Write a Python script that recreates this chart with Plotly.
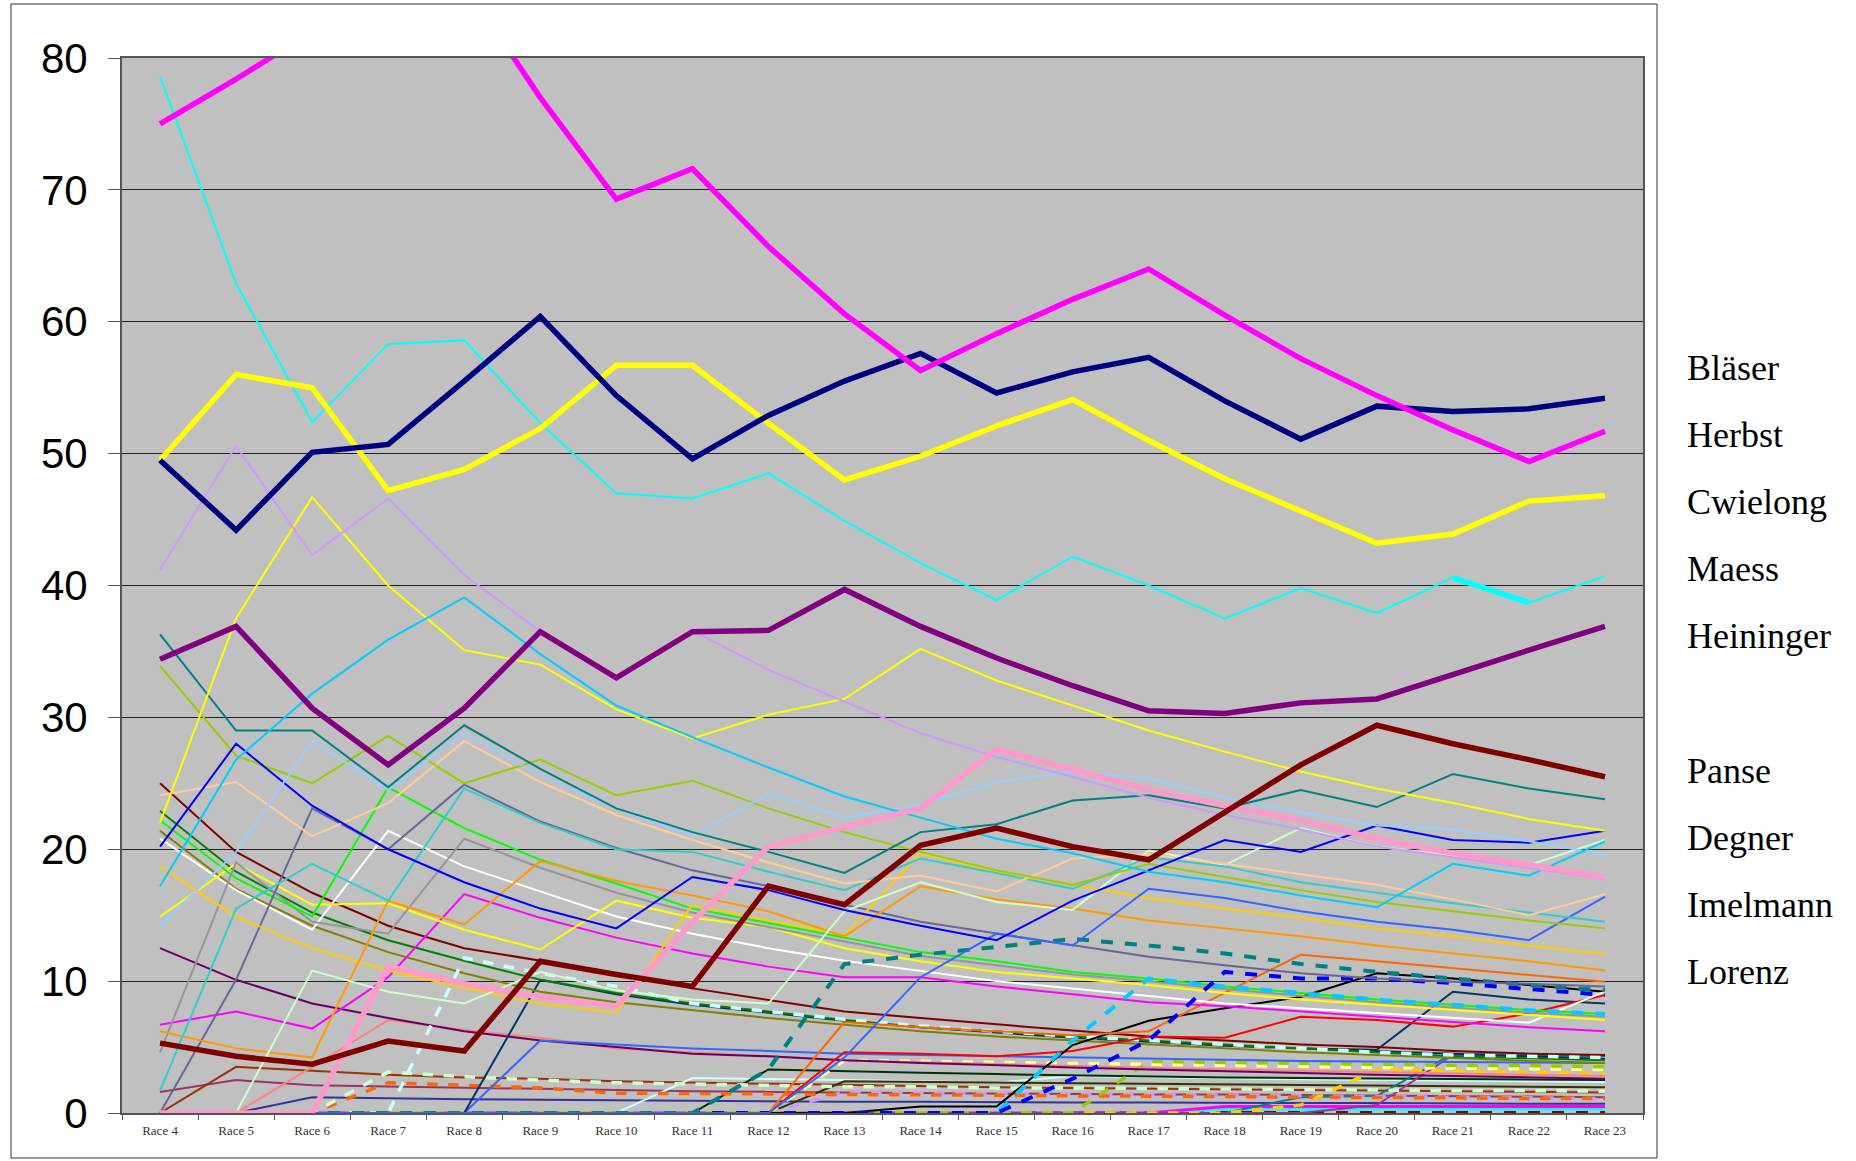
import plotly.graph_objects as go

races = ["Race %d" % k for k in range(4, 24)]

# ---- main (thick) series ----
blaeser   = [75.0, 78.4, 82.0, 85.0, 85.6, 77.0, 69.3, 71.6, 65.7, 60.6, 56.3, 59.1, 61.7, 64.0, 60.5, 57.2, 54.4, 51.8, 49.4, 51.7]
herbst    = [49.5, 44.2, 50.1, 50.7, 55.5, 60.4, 54.4, 49.6, 52.9, 55.5, 57.6, 54.6, 56.2, 57.3, 54.0, 51.1, 53.6, 53.2, 53.4, 54.2]
cwielong  = [49.5, 56.0, 55.0, 47.2, 48.8, 51.9, 56.7, 56.7, 52.3, 48.0, 49.8, 52.1, 54.1, 51.0, 48.1, 45.6, 43.2, 43.9, 46.4, 46.8]
maess     = [78.6, 62.9, 52.4, 58.3, 58.6, 52.3, 47.0, 46.6, 48.5, 44.9, 41.7, 38.9, 42.2, 40.0, 37.5, 39.8, 37.9, 40.6, 38.7, 40.7]
maess_b   = [None] * 17 + [40.6, 38.7, None]
heininger = [34.4, 36.9, 30.7, 26.4, 30.7, 36.5, 33.0, 36.5, 36.6, 39.7, 36.9, 34.5, 32.4, 30.5, 30.3, 31.1, 31.4, 33.3, 35.1, 36.9]
panse     = [5.3, 4.3, 3.7, 5.45, 4.7, 11.5, 10.5, 9.6, 17.2, 15.8, 20.3, 21.6, 20.2, 19.2, 22.8, 26.4, 29.4, 28.0, 26.8, 25.5]
pink_th   = [0, 0, 0, 11.1, 9.8, 8.8, 8.1, 14.5, 20.2, 21.7, 23.1, 27.6, 26.0, 24.5, 23.3, 22.2, 20.8, 19.7, 18.8, 17.9]

# ---- thin series ----
lavender  = [41.2, 50.6, 42.3, 46.6, 40.8, 36.5, 32.8, 36.6, 33.6, 31.2, 28.8, 27.0, 25.5, 23.9, 22.6, 21.5, 20.2, 19.4, 18.6, 17.7]
skyblue   = [17.2, 26.8, 31.8, 35.9, 39.1, 34.8, 30.9, 28.5, 26.2, 24.0, 22.4, 20.8, 19.7, 18.3, 17.5, 16.5, 15.6, 18.9, 18.0, 20.6]
yellow_a  = [22.0, 37.5, 46.7, 40.0, 35.1, 34.0, 30.6, 28.4, 30.2, 31.4, 35.2, 32.8, 30.9, 29.0, 27.4, 25.9, 24.6, 23.5, 22.3, 21.4]
teal      = [36.3, 29.0, 29.0, 24.7, 29.4, 26.1, 23.1, 21.3, 19.8, 18.2, 21.3, 21.9, 23.7, 24.1, 23.1, 24.5, 23.2, 25.7, 24.6, 23.8]
ygreen    = [33.9, 27.1, 25.0, 28.6, 25.0, 26.8, 24.1, 25.2, 23.1, 21.3, 19.8, 18.4, 17.3, 18.9, 17.9, 16.9, 16.0, 15.3, 14.6, 14.0]
ltorange  = [24.1, 25.1, 21.0, 23.5, 28.2, 25.1, 22.6, 20.7, 19.0, 17.4, 18.0, 16.8, 19.3, 19.6, 18.9, 18.1, 17.3, 16.2, 15.0, 16.6]
paleblue  = [14.2, 19.8, 28.2, 24.5, 28.8, 25.6, 23.1, 21.0, 24.2, 22.4, 23.4, 25.1, 25.9, 25.4, 23.9, 22.8, 21.8, 21.5, 20.6, 19.6]
blue_a    = [20.2, 28.0, 23.3, 20.0, 17.5, 15.5, 14.0, 17.9, 16.9, 15.4, 14.2, 13.1, 16.1, 18.4, 20.7, 19.8, 21.8, 20.7, 20.5, 21.4]
grayblue  = [0, 10.1, 23.1, 20.0, 24.9, 22.1, 20.1, 18.4, 17.2, 15.8, 14.5, 13.6, 12.7, 11.85, 11.2, 10.6, 10.2, 9.95, 9.8, 9.6]
turq      = [1.7, 15.5, 18.9, 16.1, 24.6, 22.0, 20.0, 19.8, 18.3, 16.9, 19.3, 18.2, 17.0, 19.4, 18.7, 17.5, 16.7, 15.9, 15.2, 14.5]
cornfl    = [0, 0, 0, 0, 0, 0, 0, 0, 0, 4.2, 10.3, 13.6, 12.7, 17.0, 16.3, 15.3, 14.5, 13.9, 13.1, 16.4]
royal     = [0, 0, 0, 0, 0, 5.5, 5.2, 4.9, 4.7, 4.5, 4.4, 4.3, 4.2, 4.1, 4.0, 3.95, 3.9, 3.85, 3.8, 3.8]
green     = [22.2, 17.8, 14.9, 24.7, 21.6, 19.2, 17.4, 15.5, 14.4, 13.3, 12.2, 11.5, 10.7, 10.2, 9.6, 9.1, 8.6, 8.2, 7.8, 7.5]
white     = [20.8, 16.9, 13.9, 21.4, 18.7, 16.8, 14.9, 13.6, 12.5, 11.55, 10.8, 10.0, 9.45, 8.9, 8.3, 7.95, 7.6, 7.2, 6.85, 9.2]
yellow_b  = [14.9, 18.9, 15.8, 15.9, 13.9, 12.4, 16.1, 14.8, 14.1, 12.5, 11.5, 10.7, 10.2, 9.7, 9.1, 8.6, 8.2, 7.8, 7.4, 7.05]
magenta_t = [6.7, 7.7, 6.4, 10.3, 16.6, 14.8, 13.3, 12.1, 11.1, 10.3, 10.3, 9.6, 9.0, 8.4, 8.1, 7.7, 7.3, 6.9, 6.5, 6.2]
orange    = [6.2, 4.9, 4.2, 16.1, 14.3, 19.1, 17.6, 16.5, 15.3, 13.4, 17.2, 16.2, 15.5, 14.6, 14.0, 13.4, 12.7, 12.1, 11.5, 10.8]
gold      = [18.7, 14.9, 12.5, 10.8, 9.5, 8.3, 7.6, 15.8, 14.6, 13.5, 19.7, 18.3, 17.3, 16.3, 15.5, 14.8, 14.0, 13.4, 12.7, 12.05]
darkred   = [25.0, 19.8, 16.7, 14.2, 12.5, 11.55, 10.6, 9.45, 8.6, 7.7, 7.2, 6.7, 6.25, 5.8, 5.5, 5.2, 5.0, 4.7, 4.5, 4.4]
dkgreen   = [22.9, 18.3, 15.2, 13.1, 11.55, 10.1, 9.1, 8.3, 7.7, 7.05, 6.5, 6.2, 5.8, 5.5, 5.2, 4.9, 4.6, 4.3, 4.15, 4.0]
olive     = [21.4, 17.0, 14.2, 12.2, 10.6, 9.2, 8.4, 7.8, 7.2, 6.7, 6.2, 5.8, 5.5, 5.15, 4.9, 4.6, 4.4, 4.15, 3.95, 3.8]
gray      = [4.6, 19.0, 14.5, 13.6, 20.8, 18.6, 16.7, 15.2, 14.1, 13.0, 11.9, 11.2, 10.5, 10.0, 9.4, 8.9, 8.4, 8.0, 7.6, 7.3]
purple_t  = [12.5, 10.1, 8.3, 7.2, 6.2, 5.5, 5.0, 4.5, 4.3, 4.0, 3.8, 3.6, 3.45, 3.3, 3.15, 3.0, 2.9, 2.8, 2.7, 2.6]
salmon    = [0, 0, 3.5, 7.05, 6.3, 5.7, 4.9, 4.6, 4.3, 4.0, 3.85, 3.7, 3.55, 3.4, 3.3, 3.2, 3.1, 3.0, 2.9, 2.8]
ltgreen   = [0, 0, 10.8, 9.2, 8.3, 10.7, 9.3, 8.6, 8.3, 15.3, 17.5, 16.0, 15.4, 19.9, 18.8, 21.6, 20.2, 19.5, 18.8, 20.7]
black     = [0, 0, 0, 0, 0, 0, 0, 0, 0, 0, 0.5, 0.5, 5.15, 7.0, 7.95, 8.8, 10.6, 10.2, 9.7, 9.2]
red       = [0, 0, 0, 0, 0, 0, 0, 0, 0, 4.6, 4.5, 4.3, 4.7, 5.8, 5.7, 7.3, 7.05, 6.55, 7.55, 8.95]
orangered = [0, 0, 0, 0, 0, 0, 0, 0, 0, 6.9, 6.5, 6.2, 5.9, 6.2, 9.1, 12.0, 11.5, 11.0, 10.5, 9.95]
slate_a   = [0, 0, 0, 0, 0, 10.1, 9.0, 8.2, 7.6, 7.0, 6.5, 6.1, 5.7, 5.4, 5.1, 4.9, 4.7, 4.5, 4.3, 4.1]
slate_b   = [None] * 15 + [4.9, 4.8, 9.2, 8.6, 8.3]
brown     = [0, 3.5, 3.2, 2.9, 2.7, 2.6, 2.4, 2.3, 2.2, 2.1, 2.0, 1.95, 1.9, 1.85, 1.8, 1.75, 1.7, 1.65, 1.6, 1.55]
plum      = [1.6, 2.5, 2.1, 2.0, 1.9, 1.8, 1.7, 1.65, 1.6, 1.55, 1.5, 1.5, 1.45, 1.4, 1.4, 1.35, 1.3, 1.3, 1.25, 1.2]
dkblue    = [0, 0, 1.2, 1.1, 1.05, 1.0, 0.95, 0.9, 0.9, 0.85, 0.85, 0.8, 0.8, 0.8, 0.75, 0.75, 0.75, 0.7, 0.7, 0.7]
dkgreen_b = [0, 0, 0, 0, 0, 0, 0, 0, 3.3, 3.15, 3.05, 2.95, 2.85, 2.8, 2.7, 2.65, 2.6, 2.55, 2.5, 2.5]
dkolive   = [0, 0, 0, 0, 0, 0, 0, 0, 0, 2.4, 2.35, 2.3, 2.25, 2.2, 2.15, 2.1, 2.05, 2.0, 2.0, 1.95]
ltcyan    = [0, 0, 0, 0, 0, 0, 0, 2.65, 2.6, 2.5, 2.4, 2.3, 2.8, 2.7, 2.6, 2.55, 2.5, 2.45, 2.4, 2.35]
teal_b    = [0, 0, 0, 0, 0, 0, 0, 0, 0, 0, 0, 0, 0, 0, 0, 1.2, 1.3, 4.5, 4.4, 4.3]
plum_b    = [0, 0, 0, 0, 0, 0, 0, 0, 0, 0, 0, 0, 0, 0, 0, 0, 0.6, 4.4, 4.2, 4.1]
magenta_s = [0, 0, 0, 0, 0, 0, 0, 0, 0, 0, 0, 0, 0, 0, 0.5, 0.5, 0.5, 0.5, 0.5, 0.5]
cyan_s    = [0, 0, 0, 0, 0, 0, 0, 0, 0, 0, 0, 0, 0, 0, 0.3, 0.3, 0.3, 0.3, 0.3, 0.3]

# ---- dashed series ----
teal_d    = [0, 0, 0, 0, 0, 0, 0, 0, 3.3, 11.3, 12.0, 12.6, 13.2, 12.7, 12.1, 11.3, 10.7, 10.2, 9.7, 9.3]
blue_d    = [0, 0, 0, 0, 0, 0, 0, 0, 0, 0, 0, 0, 2.6, 5.5, 10.7, 10.2, 10.2, 9.85, 9.4, 8.95]
sky_d     = [0, 0, 0, 0, 0, 0, 0, 0, 0, 0, 0, 0, 5.5, 10.2, 9.6, 9.1, 8.6, 8.2, 7.8, 7.5]
ltcyan_d  = [0, 0, 0, 0, 11.75, 10.6, 9.6, 8.3, 7.7, 7.1, 6.6, 6.2, 5.8, 5.5, 5.2, 4.9, 4.6, 4.4, 4.3, 4.2]
orange_d  = [0, 0, 0, 2.3, 2.1, 1.9, 1.5, 1.5, 1.45, 1.4, 1.4, 1.35, 1.3, 1.3, 1.25, 1.2, 1.2, 1.15, 1.1, 1.1]
ltgreen_d = [0, 0, 0, 3.1, 2.75, 2.5, 2.3, 2.2, 2.1, 2.0, 2.0, 1.9, 1.9, 1.85, 1.8, 1.8, 1.75, 1.7, 1.7, 1.65]
ltyell_d  = [0, 0, 0, 0, 0, 0, 0, 0, 0, 4.0, 3.9, 3.8, 3.75, 3.7, 3.6, 3.5, 3.45, 3.4, 3.35, 3.3]
gold_d    = [0, 0, 0, 0, 0, 0, 0, 0, 0, 0, 0, 0, 0, 0, 0, 0.6, 3.3, 3.2, 3.1, 3.0]
lav_d     = [0, 0, 0, 0, 0, 0, 0, 0, 0, 1.6, 1.55, 1.5, 1.45, 1.4, 1.35, 1.3, 1.25, 1.2, 1.15, 1.1]
ygreen_d  = [0, 0, 0, 0, 0, 0, 0, 0, 0, 0, 0, 0, 0, 3.9, 3.85, 3.8, 3.7, 3.6, 3.6, 3.5]
zero_d    = [0] * 20

legend_names = ["Bläser", "Herbst", "Cwielong", "Maess", "Heininger", "",
                "Panse", "Degner", "Imelmann", "Lorenz"]

# (values, color, width, dash)
series = [
    (zero_d, "#800000", 4, "dash"),
    (cyan_s, "#00FFFF", 3, "solid"), (magenta_s, "#FF00FF", 3, "solid"),
    (dkblue, "#333399", 2, "solid"), (plum, "#993366", 2, "solid"),
    (brown, "#993300", 2, "solid"), (ltcyan, "#CCFFFF", 2, "solid"),
    (dkolive, "#333300", 2, "solid"), (dkgreen_b, "#003300", 2, "solid"),
    (teal_b, "#008080", 2, "solid"), (plum_b, "#993399", 2, "solid"),
    (lav_d, "#CC99FF", 3.5, "dash"), (orange_d, "#FF6600", 3.5, "dash"),
    (ltgreen_d, "#CCFFCC", 3.5, "dash"), (ltyell_d, "#FFFF99", 3.5, "dash"),
    (gold_d, "#FFCC00", 3.5, "dash"), (ygreen_d, "#99CC00", 3.5, "dash"),
    (salmon, "#FF8080", 2, "solid"), (purple_t, "#660066", 2, "solid"),
    (royal, "#3366FF", 2, "solid"), (slate_a, "#003366", 2, "solid"),
    (slate_b, "#003366", 2, "solid"),
    (olive, "#808000", 2, "solid"), (dkgreen, "#008000", 2, "solid"),
    (darkred, "#800000", 2, "solid"), (ltcyan_d, "#CCFFFF", 3.5, "dash"),
    (red, "#FF0000", 2, "solid"), (black, "#000000", 2, "solid"),
    (orangered, "#FF6600", 2, "solid"),
    (magenta_t, "#FF00FF", 2, "solid"), (white, "#FFFFFF", 2, "solid"),
    (yellow_b, "#FFFF00", 2, "solid"), (gray, "#969696", 2, "solid"),
    (green, "#00FF00", 2, "solid"),
    (sky_d, "#00CCFF", 4, "dash"), (blue_d, "#0000FF", 4, "dash"),
    (teal_d, "#008080", 4, "dash"),
    (grayblue, "#666699", 2, "solid"), (gold, "#FFCC00", 2, "solid"),
    (orange, "#FF9900", 2, "solid"), (cornfl, "#3366FF", 2, "solid"),
    (ltgreen, "#CCFFCC", 2, "solid"), (turq, "#33CCCC", 2, "solid"),
    (ltorange, "#FFCC99", 2, "solid"), (ygreen, "#99CC00", 2, "solid"),
    (blue_a, "#0000FF", 2, "solid"), (paleblue, "#99CCFF", 2, "solid"),
    (teal, "#008080", 2, "solid"), (yellow_a, "#FFFF00", 2, "solid"),
    (skyblue, "#00CCFF", 2, "solid"), (lavender, "#CC99FF", 2, "solid"),
    (pink_th, "#FF99CC", 5.5, "solid"), (panse, "#800000", 5.5, "solid"),
    (heininger, "#800080", 5.5, "solid"), (maess, "#00FFFF", 2, "solid"),
    (maess_b, "#00FFFF", 5.5, "solid"), (cwielong, "#FFFF00", 5.5, "solid"),
    (herbst, "#000080", 5.5, "solid"), (blaeser, "#FF00FF", 5.5, "solid"),
]

fig = go.Figure()
for vals, col, w, dash in series:
    fig.add_trace(go.Scatter(x=races, y=vals, mode="lines",
                             line=dict(color=col, width=w, dash=dash),
                             showlegend=False, connectgaps=False))

W, H = 1856, 1161
L, R, T, B = 122, 213, 58, 48
pw, ph = W - L - R, H - T - B

def px_x(px):
    return (px - L) / pw

def px_y(py):
    return (H - B - py) / ph

fig.update_layout(
    width=W, height=H,
    margin=dict(l=L, r=R, t=T, b=B, pad=0),
    paper_bgcolor="white", plot_bgcolor="#C0C0C0",
    xaxis=dict(type="category", categoryorder="array", categoryarray=races,
               range=[-0.5, len(races) - 0.5], showgrid=False,
               ticks="outside", tickson="boundaries", ticklen=5,
               tickcolor="#555555", showline=True, linecolor="#555555",
               linewidth=2, mirror=True, zeroline=False,
               tickfont=dict(family="Liberation Serif", size=13, color="#333333"),
               ticklabelstandoff=4),
    yaxis=dict(range=[0, 80], dtick=10, showgrid=True, gridcolor="#222222",
               gridwidth=1, ticks="outside", ticklen=12, tickcolor="#555555",
               showline=True, linecolor="#555555", linewidth=2, mirror=True,
               zeroline=False,
               tickfont=dict(family="Liberation Sans", size=42, color="black"),
               ticklabelstandoff=12),
)

# legend-like labels at the right
y0, step = 0.7062, 0.0636
for i, name in enumerate(legend_names):
    if name:
        fig.add_annotation(xref="paper", yref="paper", x=px_x(1685), y=y0 - i * step,
                           text=name, showarrow=False, xanchor="left", yanchor="middle",
                           font=dict(family="Liberation Serif", size=36, color="black"))

# chart-area frame
fig.add_shape(type="rect", xref="paper", yref="paper",
              x0=px_x(11), x1=px_x(1657), y0=px_y(1158), y1=px_y(4),
              line=dict(color="#333333", width=1), layer="below")

fig.write_html("out.html", config={"displayModeBar": False},
               post_script="document.body.style.margin='0';document.body.style.overflow='hidden';")
